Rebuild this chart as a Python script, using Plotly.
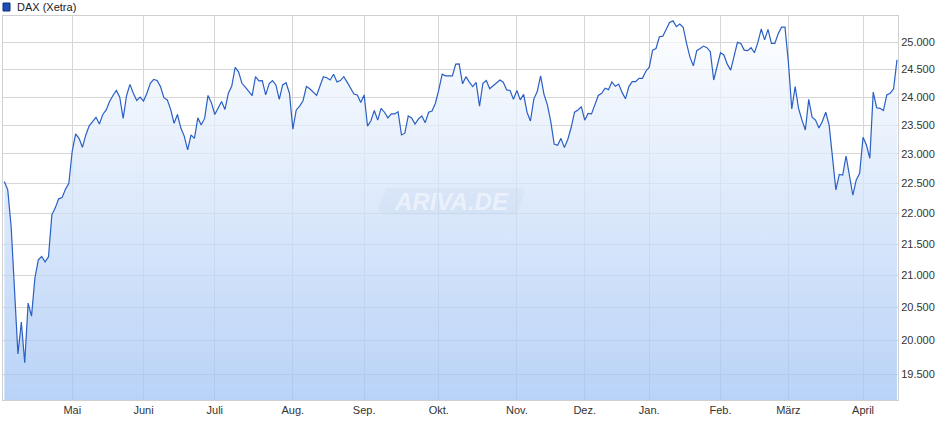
import math
import pandas as pd
import plotly.graph_objects as go

# ---------------- data ----------------
series_name = "DAX (Xetra)"
start_date = "2025-04-01"
end_date = "2026-04-17"
exchange_holidays = ["2025-04-18", "2025-04-21", "2025-05-01", "2025-12-24",
                     "2025-12-25", "2025-12-26", "2025-12-31", "2026-01-01",
                     "2026-04-03", "2026-04-06"]

dax_close = [
    22530, 22390, 21780, 20730, 19800, 20280, 19670, 20570, 20370, 20960,
    21246, 21300, 21215, 21295, 21975, 22090, 22240, 22260, 22400, 22500,
    23050, 23350, 23270, 23115, 23330, 23490, 23560, 23640, 23520, 23690,
    23770, 23920, 24030, 24120, 24000, 23620, 24025, 24230, 24070, 23940,
    24000, 23930, 24070, 24250, 24320, 24300, 24190, 23990, 23950, 23780,
    23535, 23690, 23450, 23310, 23070, 23330, 23270, 23630, 23505, 23620,
    24030, 23900, 23690, 23800, 23920, 23780, 24070, 24200, 24540, 24460,
    24250, 24180, 24100, 24025, 24370, 24295, 24300, 24040, 24240, 24300,
    24220, 23960, 24220, 24260, 24070, 23430, 23770, 23840, 23935, 24190,
    24150, 24090, 24030, 24200, 24370, 24350, 24310, 24415, 24275, 24300,
    24370, 24270, 24160, 24055, 24040, 23905, 24040, 23485, 23580, 23760,
    23590, 23800, 23730, 23630, 23700, 23700, 23740, 23330, 23360, 23665,
    23630, 23520, 23610, 23665, 23545, 23730, 23750, 23890, 24130, 24415,
    24385, 24385, 24385, 24600, 24605, 24240, 24370, 24270, 24190, 24265,
    23840, 24250, 24300, 24150, 24205, 24250, 24310, 24270, 24130, 24120,
    23960, 24120, 23950, 24050, 23730, 23575, 23965, 24100, 24385, 24050,
    23860, 23565, 23170, 23150, 23270, 23110, 23250, 23460, 23730, 23770,
    23830, 23590, 23710, 23700, 23860, 24030, 24070, 24160, 24135, 24275,
    24195, 24235, 24085, 23970, 24190, 24280, 24280, 24340, 24340, 24470,
    24540, 24860, 24890, 25110, 25120, 25250, 25380, 25410, 25300, 25350,
    25290, 24985, 24730, 24570, 24850, 24890, 24935, 24905, 24830, 24310,
    24560, 24810, 24770, 24600, 24490, 24740, 25005, 24985, 24860, 24850,
    24905, 24810, 25000, 25255, 25050, 25250, 24985, 24985, 25165, 25290,
    25290, 24640, 23790, 24190, 23800, 23590, 23417, 23960, 23640, 23590,
    23450, 23565, 23730, 23505, 22925, 22390, 22650, 22640, 22965, 22610,
    22300, 22557, 22670, 23290, 23155, 22925, 24090, 23810, 23800, 23760,
    24040, 24070, 24150, 24680,
]

month_labels = {1: "Jan.", 2: "Feb.", 3: "März", 4: "April", 5: "Mai", 6: "Juni",
                7: "Juli", 8: "Aug.", 9: "Sep.", 10: "Okt.", 11: "Nov.", 12: "Dez."}
y_ticks = [19500, 20000, 20500, 21000, 21500, 22000, 22500, 23000, 23500,
           24000, 24500, 25000]
y_min, y_max = 19130, 25503

# ---------------- derived ----------------
dates = [d.strftime("%Y-%m-%d") for d in pd.bdate_range(start_date, end_date)
         if d.strftime("%Y-%m-%d") not in exchange_holidays]
n = min(len(dates), len(dax_close))
dates = dates[:n]
values = dax_close[:n]

tickvals, ticktext = [], []
prev_month = dates[0][:7]
for d in dates[1:]:
    if d[:7] != prev_month:
        tickvals.append(d)
        ticktext.append(month_labels[int(d[5:7])])
        prev_month = d[:7]

y_ticktext = [f"{v:,}".replace(",", ".") for v in y_ticks]

FONT = "Liberation Sans, Arial, sans-serif"
W, H = 940, 435
ML, MR, MT, MB = 3, 42, 16, 35
PW, PH = W - ML - MR, H - MT - MB


def px_x(p):
    return (p - ML) / PW


def px_y(p):
    return (H - MB - p) / PH


fig = go.Figure()
fig.add_trace(go.Scatter(
    x=dates, y=values, mode="lines", name=series_name,
    line=dict(color="#2a5fc4", width=1.2),
    fill="tozeroy",
    fillgradient=dict(type="vertical",
                      start=y_min, stop=y_max,
                      colorscale=[[0, "rgba(160,195,244,0.74)"],
                                  [1, "rgba(255,255,255,0.74)"]]),
    showlegend=False, hoverinfo="skip",
))

fig.update_layout(
    width=W, height=H,
    margin=dict(l=ML, r=MR, t=MT, b=MB),
    paper_bgcolor="white", plot_bgcolor="white",
    separators=",.",
    font=dict(family=FONT, size=11, color="#333333"),
    showlegend=False,
    xaxis=dict(type="category", range=[-0.4, len(dates) - 0.7],
               tickmode="array", tickvals=tickvals, ticktext=ticktext,
               showgrid=True, gridcolor="#d6d6d6", gridwidth=1,
               showline=True, mirror=True, linecolor="#d0d0d0", linewidth=1,
               ticks="", zeroline=False, fixedrange=True, automargin=False,
               tickfont=dict(family=FONT, size=11, color="#333333")),
    yaxis=dict(type="log", side="right",
               range=[math.log10(y_min), math.log10(y_max)],
               tickmode="array", tickvals=y_ticks, ticktext=y_ticktext,
               showgrid=True, gridcolor="#d6d6d6", gridwidth=1,
               showline=True, mirror=True, linecolor="#d0d0d0", linewidth=1,
               ticks="", zeroline=False, fixedrange=True, automargin=False,
               tickfont=dict(family=FONT, size=11, color="#333333")),
    shapes=[
        # legend swatch
        dict(type="rect", xref="paper", yref="paper",
             x0=px_x(3), x1=px_x(10), y0=px_y(11), y1=px_y(3),
             fillcolor="#1f4fb4", line=dict(color="#0d2f80", width=1)),
        # watermark plate
        dict(type="path", xref="paper", yref="paper",
             path=(f"M {px_x(384)},{px_y(215)} L {px_x(378)},{px_y(210)} "
                   f"L {px_x(386)},{px_y(188)} L {px_x(522)},{px_y(188)} "
                   f"L {px_x(525)},{px_y(192)} L {px_x(516)},{px_y(215)} Z"),
             fillcolor="rgba(175,195,225,0.13)", line=dict(width=0),
             layer="above"),
    ],
    annotations=[
        dict(x=px_x(15), y=px_y(7), xref="paper", yref="paper",
             xanchor="left", yanchor="middle",
             text=series_name, showarrow=False,
             font=dict(family=FONT, size=11, color="#222222")),
        dict(x=px_x(451), y=px_y(201.5), xref="paper", yref="paper",
             text="<b><i>ARIVA.DE</i></b>", showarrow=False,
             font=dict(family=FONT, size=24, color="rgba(255,255,255,0.5)")),
    ],
)

fig.write_html(
    "out.html",
    config={"displayModeBar": False, "staticPlot": True},
    post_script="document.body.style.margin='0';document.body.style.padding='0';"
                "document.body.style.overflow='hidden';",
)
